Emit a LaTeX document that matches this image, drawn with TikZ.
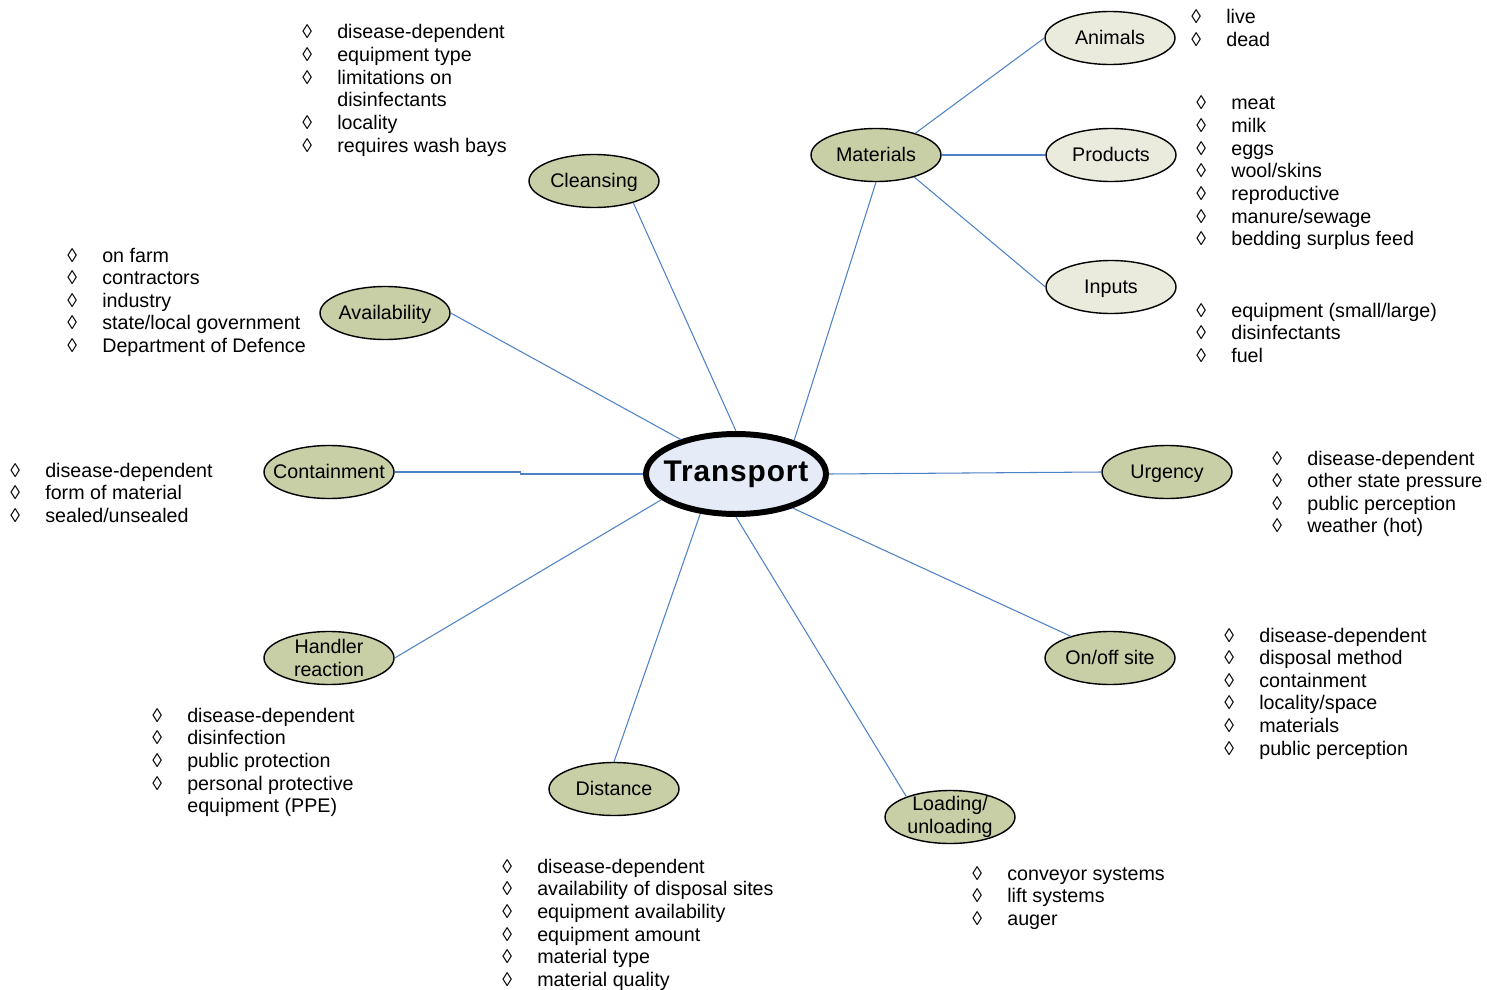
\documentclass[tikz,border=0pt]{standalone}
\usepackage{fontspec}
\setmainfont{Liberation Sans}
\usetikzlibrary{shapes.geometric}
\definecolor{cgreen}{RGB}{200,206,166}
\definecolor{clight}{RGB}{234,234,221}
\definecolor{ctrans}{RGB}{229,235,247}
\definecolor{cline}{RGB}{79,129,199}
\newcommand\dm{\makebox[19.9pt][l]{◊}}
\newcommand\nb{\hspace*{19.9pt}}
\tikzset{
  topic/.style={ellipse, draw=black, line width=0.8pt, fill=cgreen,
    minimum width=2.6cm, minimum height=1.06cm, inner xsep=-20pt, inner ysep=-10pt,
    align=center, font=\fontsize{11.2}{12.9}\selectfont},
  one/.style={text height=0.85em, text depth=0.1em},
  subtopic/.style={topic, fill=clight},
  hub/.style={ellipse, draw=black, line width=3.4pt, fill=ctrans,
    minimum width=3.6cm, minimum height=1.6cm, inner xsep=-30pt, inner ysep=-10pt,
    text height=0.95em, text depth=0.09em,
    font=\fontsize{17}{20}\selectfont\bfseries\addfontfeature{LetterSpace=3}},
  lst/.style={anchor=base west, inner sep=0pt, font=\fontsize{11.2}{12.9}\selectfont},
  conn/.style={draw=cline, line width=0.6pt}
}
\begin{document}
\begin{tikzpicture}[x=0.02cm,y=-0.02cm]
\useasboundingbox (0,0) rectangle (1487,990);

% nodes
\node[hub] (transport) at (736,474) {Transport};
\node[topic,one] (materials) at (876,155) {Materials};
\node[subtopic,one] (animals) at (1110,38) {Animals};
\node[subtopic,one] (products) at (1111,155) {Products};
\node[subtopic,one] (inputs) at (1111,287) {Inputs};
\node[topic,one] (cleansing) at (594,181) {Cleansing};
\node[topic,one] (availability) at (385,313) {Availability};
\node[topic,one] (containment) at (329,472) {Containment};
\node[topic,one] (urgency) at (1167,472) {Urgency};
\node[topic] (handler) at (329,658) {Handler\\reaction};
\node[topic,one] (onoff) at (1110,658) {On/off site};
\node[topic,one] (distance) at (614,789) {Distance};
\node[topic] (loading) at (950,817) {Loading/\\unloading};

% connectors
\draw[conn] (cleansing.-29) -- (transport.north);
\draw[conn] (materials.south) -- (transport.30);
\draw[conn] (availability.east) -- (transport.148);
\draw[conn] (containment.east) -- ++(126,0) |- (transport.west);
\draw[conn] (urgency.west) -- (transport.east);
\draw[conn] (onoff.151) -- (transport.-31);
\draw[conn] (loading.155) -- (transport.south);
\draw[conn] (distance.north) -- (transport.-132);
\draw[conn] (handler.east) -- (transport.-161);
\draw[conn] (materials.29) -- (animals.west);
\draw[conn] (materials.east) -- (products.west);
\draw[conn] (materials.-30) -- (inputs.west);

% lists
\node[lst] (lcleansing) at (302,39) {\begin{tabular}[t]{@{}l@{}}
\dm disease-dependent\\ \dm equipment type\\ \dm limitations on\\ \nb disinfectants\\ \dm locality\\ \dm requires wash bays\end{tabular}};
\node[lst] (lanimals) at (1191,24) {\begin{tabular}[t]{@{}l@{}}
\dm live\\ \dm dead\end{tabular}};
\node[lst] (lproducts) at (1196,110) {\begin{tabular}[t]{@{}l@{}}
\dm meat\\ \dm milk\\ \dm eggs\\ \dm wool/skins\\ \dm reproductive\\ \dm manure/sewage\\ \dm bedding surplus feed\end{tabular}};
\node[lst] (linputs) at (1196,317) {\begin{tabular}[t]{@{}l@{}}
\dm equipment (small/large)\\ \dm disinfectants\\ \dm fuel\end{tabular}};
\node[lst] (lavailability) at (67,262) {\begin{tabular}[t]{@{}l@{}}
\dm on farm\\ \dm contractors\\ \dm industry\\ \dm state/local government\\ \dm Department of Defence\end{tabular}};
\node[lst] (lcontainment) at (10,477) {\begin{tabular}[t]{@{}l@{}}
\dm disease-dependent\\ \dm form of material\\ \dm sealed/unsealed\end{tabular}};
\node[lst] (lurgency) at (1272,465) {\begin{tabular}[t]{@{}l@{}}
\dm disease-dependent\\ \dm other state pressure\\ \dm public perception\\ \dm weather (hot)\end{tabular}};
\node[lst] (lonoff) at (1224,642) {\begin{tabular}[t]{@{}l@{}}
\dm disease-dependent\\ \dm disposal method\\ \dm containment\\ \dm locality/space\\ \dm materials\\ \dm public perception\end{tabular}};
\node[lst] (lhandler) at (152,722) {\begin{tabular}[t]{@{}l@{}}
\dm disease-dependent\\ \dm disinfection\\ \dm public protection\\ \dm personal protective\\ \nb equipment (PPE)\end{tabular}};
\node[lst] (ldistance) at (502,873) {\begin{tabular}[t]{@{}l@{}}
\dm disease-dependent\\ \dm availability of disposal sites\\ \dm equipment availability\\ \dm equipment amount\\ \dm material type\\ \dm material quality\end{tabular}};
\node[lst] (lloading) at (972,880) {\begin{tabular}[t]{@{}l@{}}
\dm conveyor systems\\ \dm lift systems\\ \dm auger\end{tabular}};
\end{tikzpicture}
\end{document}
